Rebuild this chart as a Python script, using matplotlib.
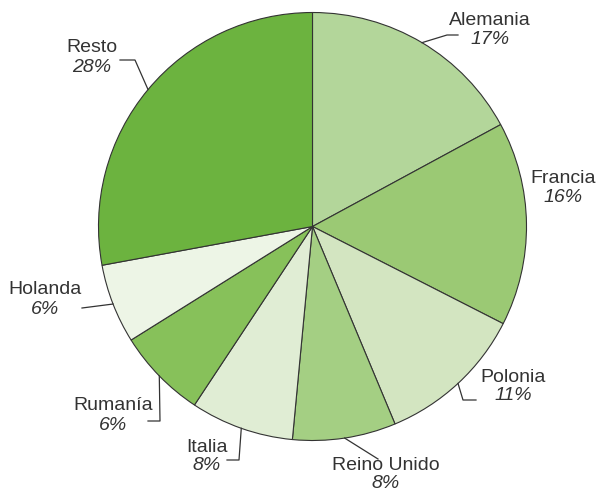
import numpy as np
import matplotlib.pyplot as plt

plt.rcParams['font.family'] = ['Liberation Sans', 'DejaVu Sans']

# shares by country (%), clockwise from the top
countries = ['Alemania', 'Francia', 'Polonia', 'Reino Unido', 'Italia', 'Rumanía', 'Holanda', 'Resto']
shares = [17, 16, 11, 8, 8, 6, 6, 28]                          # printed labels
wedge_sizes = [17.1, 15.4, 11.2, 7.8, 7.8, 6.8, 6.0, 27.9]    # slice sizes as drawn
colors = ['#b3d69a', '#9bc974', '#d3e5c1', '#a4cf83', '#e0edd4', '#87c15a', '#edf5e6', '#6cb33f']

W, H = 600, 491
cx, cy, R = 312.5, 226.5, 214  # pixel layout of the pie

# label layout in pixels: text centre (x, name y, pct y) and leader elbows
label_pos = {
    'Alemania': (490, 20, 39, [(447, 35), (458, 35)]),
    'Francia': (563, 178, 197, None),
    'Polonia': (513, 377, 396, [(463, 400), (476, 400)]),
    'Reino Unido': (386, 466, 484, [(378, 459)]),
    'Italia': (207, 447, 466, [(239, 460), (227, 460)]),
    'Rumanía': (113, 406, 425, [(160, 421), (148, 421)]),
    'Holanda': (45, 290, 309, [(82, 308)]),
    'Resto': (92, 47, 67, [(135, 60), (120, 60)]),
}

fig = plt.figure(figsize=(W / 100, H / 100), dpi=100)
ax = fig.add_axes([0, 0, 1, 1])
ax.pie(wedge_sizes, colors=colors, startangle=90, counterclock=False,
       center=(cx, H - cy), radius=R,
       wedgeprops=dict(edgecolor='#333333', linewidth=0.8))
ax.set_xlim(0, W)
ax.set_ylim(0, H)
ax.set_aspect('equal')
ax.axis('off')

txt = '#333333'
total = sum(wedge_sizes)
cum = 0
for name, s, w in zip(countries, shares, wedge_sizes):
    theta = np.deg2rad(90 - 360 * (cum + w / 2) / total)
    cum += w
    tx, ty1, ty2, path = label_pos[name]
    ax.text(tx, H - ty1, name, ha='center', va='center', fontsize=14, color=txt)
    ax.text(tx, H - ty2, f'{s}%', ha='center', va='center', fontsize=14,
            style='italic', color=txt)
    if path:
        xs = [cx + R * np.cos(theta)] + [p[0] for p in path]
        ys = [H - cy + R * np.sin(theta)] + [H - p[1] for p in path]
        ax.plot(xs, ys, color=txt, lw=0.9)

fig.savefig('out.png', dpi=100)
